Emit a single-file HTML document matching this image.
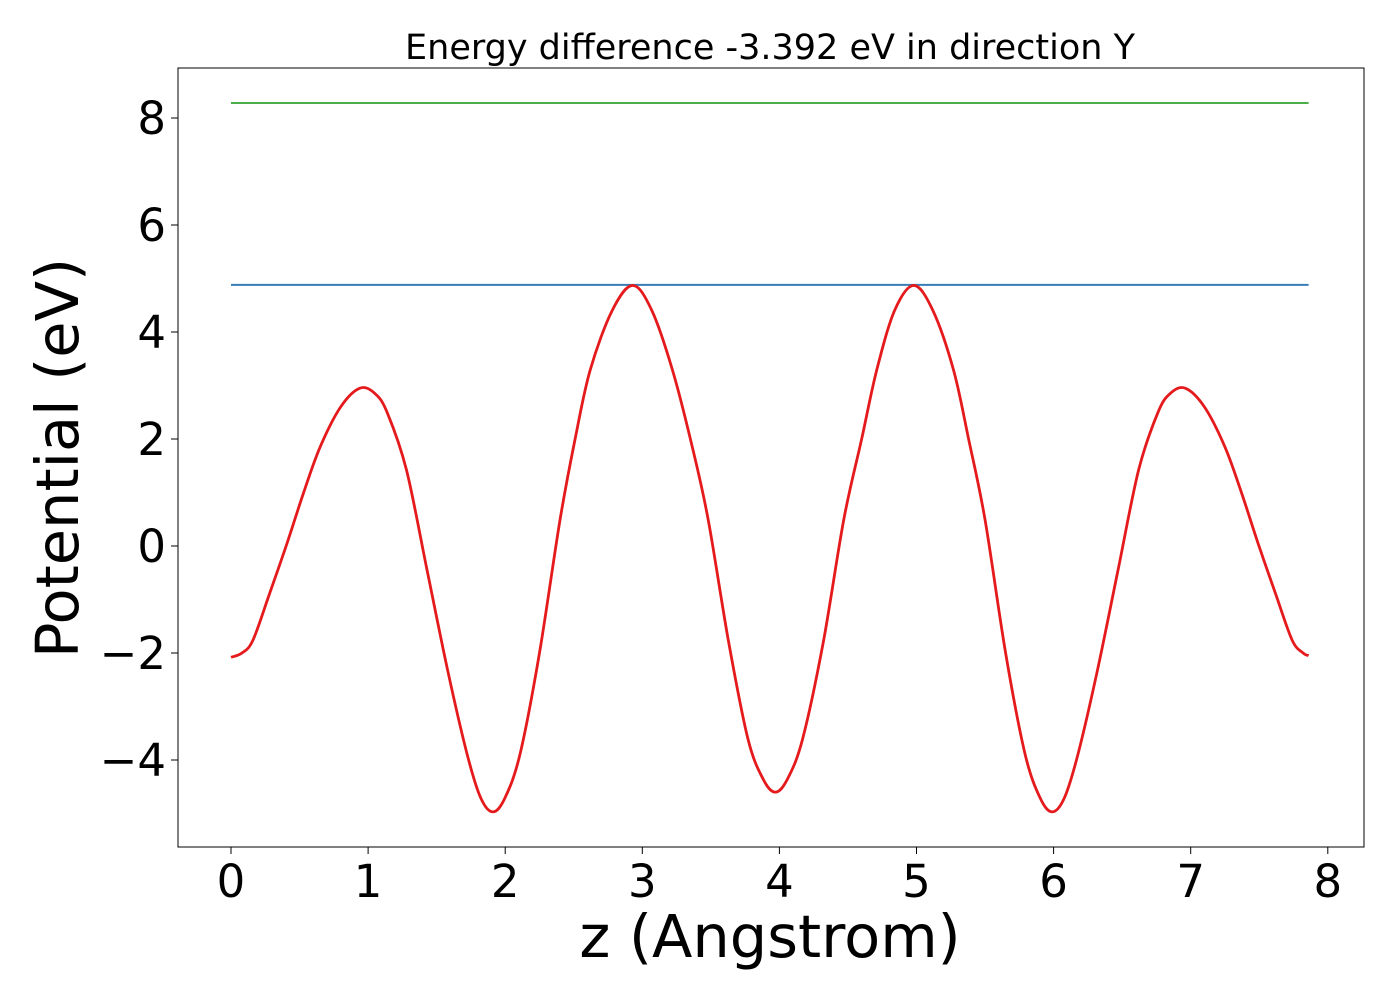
<!DOCTYPE html>
<html><head><meta charset="utf-8"><style>
html,body{margin:0;padding:0;background:#fff;}
svg{display:block;font-family:"DejaVu Sans","Liberation Sans",sans-serif;}
</style></head><body>
<svg id="chart" width="1400" height="1000"></svg>
<script>
const xData=[0,0.08,0.16,0.28,0.41,0.53,0.65,0.8,0.94,1.05,1.14,1.28,1.43,1.58,1.72,1.82,1.91,2.0,2.11,2.25,2.40,2.51,2.62,2.78,2.93,3.07,3.22,3.36,3.48,3.63,3.77,3.88,3.97,4.06,4.17,4.32,4.47,4.60,4.71,4.84,4.98,5.12,5.27,5.38,5.5,5.65,5.79,5.9,5.99,6.08,6.18,6.32,6.47,6.62,6.76,6.85,6.96,7.1,7.25,7.37,7.49,7.62,7.74,7.82,7.86];
const potential=[-2.08,-2.0,-1.76,-0.9,0.06,1.0,1.85,2.6,2.95,2.85,2.49,1.42,-0.45,-2.32,-3.87,-4.7,-4.97,-4.7,-3.87,-2.0,0.49,2.0,3.29,4.4,4.87,4.4,3.29,1.9,0.5,-1.8,-3.6,-4.35,-4.6,-4.35,-3.6,-1.8,0.5,2.0,3.29,4.4,4.87,4.4,3.29,2.0,0.49,-2.0,-3.87,-4.7,-4.97,-4.7,-3.87,-2.32,-0.45,1.42,2.49,2.85,2.95,2.6,1.85,1.0,0.06,-0.9,-1.76,-2.0,-2.05];
const blueLevel=[4.88];
const greenLevel=[8.28];
const lineRange=[0,7.86];
const xTicks=[0,1,2,3,4,5,6,7,8];
const yTicks=[-4,-2,0,2,4,6,8];
const yTickLabels=["\u22124","\u22122","0","2","4","6","8"];

const NS="http://www.w3.org/2000/svg";
const svg=document.getElementById('chart');
const L=178,R=1364,T=68,B=847;
const xs=v=>231+v*137.1;
const ys=v=>546-v*53.5;
function mk(tag,attrs,parent){const e=document.createElementNS(NS,tag);for(const k in attrs)e.setAttribute(k,attrs[k]);(parent||svg).appendChild(e);return e;}

let t=mk('text',{x:770,y:59,'text-anchor':'middle','font-size':35});t.textContent='Energy difference -3.392 eV in direction Y';



let g=mk('line',{x1:xs(lineRange[0]),x2:xs(lineRange[1]),y1:ys(greenLevel[0]),y2:ys(greenLevel[0]),stroke:'#4daf4a','stroke-width':2});


let b=mk('line',{x1:xs(lineRange[0]),x2:xs(lineRange[1]),y1:ys(blueLevel[0]),y2:ys(blueLevel[0]),stroke:'#377eb8','stroke-width':2});



const P=xData.map((x,i)=>[xs(x),ys(potential[i])]);
let d='M'+P[0][0]+','+P[0][1];
for(let i=0;i<P.length-1;i++){
 const p0=P[Math.max(i-1,0)],p1=P[i],p2=P[i+1],p3=P[Math.min(i+2,P.length-1)];
 const c1=[p1[0]+(p2[0]-p0[0])/6,p1[1]+(p2[1]-p0[1])/6];
 const c2=[p2[0]-(p3[0]-p1[0])/6,p2[1]-(p3[1]-p1[1])/6];
 d+=' C'+c1+' '+c2+' '+p2;
}
let c=mk('path',{d:d,fill:'none',stroke:'#e41a1c','stroke-width':2.8});



let f=mk('rect',{x:L,y:T,width:R-L,height:B-T,fill:'none',stroke:'#000','stroke-width':1});



xTicks.forEach(v=>{
 mk('line',{x1:xs(v),x2:xs(v),y1:B,y2:B+7,stroke:'#000','stroke-width':1});
 const e=mk('text',{x:xs(v),y:B+50,'text-anchor':'middle','font-size':45});e.textContent=v;
 
 
});
yTicks.forEach((v,i)=>{
 mk('line',{x1:L-7,x2:L,y1:ys(v),y2:ys(v),stroke:'#000','stroke-width':1});
 const e=mk('text',{x:L-12,y:ys(v)+16,'text-anchor':'end','font-size':45});e.textContent=yTickLabels[i];
 
 
});
let xl=mk('text',{x:770,y:957,'text-anchor':'middle','font-size':59});xl.textContent='z (Angstrom)';


let yl=mk('text',{x:78,y:458,'text-anchor':'middle','font-size':59,transform:'rotate(-90 78 458)'});yl.textContent='Potential (eV)';


</script>
</body></html>
